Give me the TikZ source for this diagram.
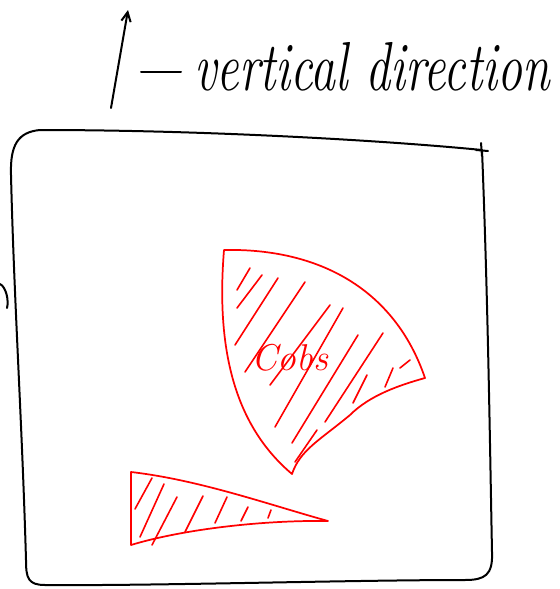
\documentclass[tikz,border=0pt]{standalone}
\usetikzlibrary{arrows.meta}
\begin{document}
\begin{tikzpicture}[x=0.75pt,y=-0.75pt,
  pen/.style={black,line width=1.5pt,line cap=round,line join=round},
  redpen/.style={red,line width=1.3pt,line cap=round,line join=round},
  hatch/.style={red,line width=1.2pt,line cap=round}]
\useasboundingbox (0,0) rectangle (560,589);
% arrow and label
\coordinate (abot) at (111,108);
\coordinate (atop) at (128,10);
\draw[pen,-{Straight Barb[length=7pt,width=7pt]}] (abot) -- (atop);
\coordinate (d1) at (141,72);
\coordinate (d2) at (181,72);
\draw[pen] (d1) -- (d2);
\node[anchor=base west,inner sep=0pt,font=\fontsize{52}{52}\selectfont\itshape,xscale=0.72,transform shape] (lbl) at (194,90) {vertical direction};
% frame
\draw[pen] (40,130) .. controls (200,130) and (380,140) .. (482,150)
  .. controls (488,300) and (490,450) .. (492,552)
  .. controls (493,575) and (485,580) .. (465,580)
  .. controls (350,580) and (150,586) .. (45,585)
  .. controls (28,585) and (26,578) .. (26,560)
  .. controls (22,420) and (14,300) .. (11,175)
  .. controls (10,145) and (18,132) .. (40,130);
\draw[pen] (476,150) -- (488,151);
\draw[pen] (481,143) -- (482,156);
\draw[pen] (0,284) .. controls (6,287) and (9,300) .. (7,308);
% Cobs region
\draw[redpen] (224,250) .. controls (320,248) and (395,290) .. (425,378)
  .. controls (400,385) and (370,395) .. (350,415)
  .. controls (320,440) and (300,450) .. (292,474)
  .. controls (240,430) and (215,360) .. (224,250);
\foreach \a/\b in {{(237,290)/(250,268)},{(237,308)/(262,275)},{(235,345)/(278,278)},{(245,372)/(305,282)},{(270,385)/(330,305)},{(275,427)/(343,308)},{(292,443)/(358,335)},{(325,422)/(383,333)},{(353,403)/(367,375)},{(385,387)/(393,368)},{(400,368)/(410,360)},{(295,462)/(317,430)}}
  \draw[hatch] \a -- \b;
\node[red,inner sep=0pt,font=\fontsize{28}{28}\selectfont\itshape] (cobs) at (290,358) {Cobs};
% triangle
\draw[redpen] (131,472) .. controls (200,480) and (270,505) .. (328,521)
  .. controls (260,520) and (180,530) .. (131,545) -- cycle;
\foreach \a/\b in {{(135,509)/(152,478)},{(140,537)/(164,484)},{(152,545)/(177,497)},{(185,532)/(203,496)},{(215,523)/(227,497)},{(241,521)/(248,507)},{(268,518)/(271,510)}}
  \draw[hatch] \a -- \b;
\end{tikzpicture}
\end{document}
